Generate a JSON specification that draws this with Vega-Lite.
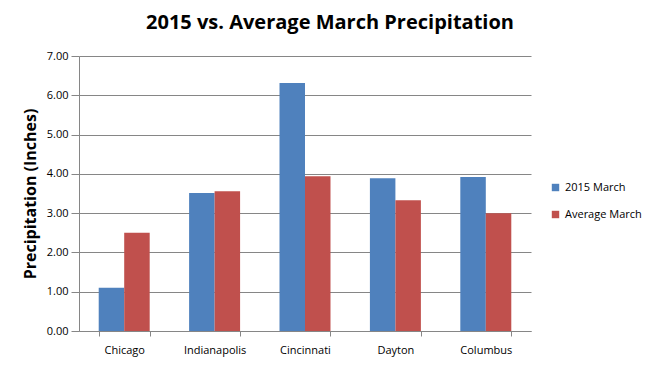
{
  "$schema": "https://vega.github.io/schema/vega-lite/v6.json",
  "width": 452,
  "height": 275,
  "autosize": {"type": "none"},
  "padding": {"left": 79, "top": 56, "right": 129, "bottom": 35},
  "background": "white",
  "title": {
    "text": "2015 vs. Average March Precipitation",
    "font": "Open Sans",
    "fontSize": 20,
    "fontWeight": "bold",
    "color": "#000000",
    "anchor": "middle",
    "dx": 25,
    "offset": 17
  },
  "data": {
    "values": [
      {"city": "Chicago", "series": "2015 March", "inches": 1.10},
      {"city": "Chicago", "series": "Average March", "inches": 2.50},
      {"city": "Indianapolis", "series": "2015 March", "inches": 3.51},
      {"city": "Indianapolis", "series": "Average March", "inches": 3.56},
      {"city": "Cincinnati", "series": "2015 March", "inches": 6.31},
      {"city": "Cincinnati", "series": "Average March", "inches": 3.94},
      {"city": "Dayton", "series": "2015 March", "inches": 3.89},
      {"city": "Dayton", "series": "Average March", "inches": 3.33},
      {"city": "Columbus", "series": "2015 March", "inches": 3.92},
      {"city": "Columbus", "series": "Average March", "inches": 3.00}
    ]
  },
  "mark": {"type": "bar"},
  "encoding": {
    "x": {
      "field": "city",
      "type": "nominal",
      "sort": null,
      "scale": {"paddingInner": 0.436, "paddingOuter": 0.218},
      "axis": {
        "title": null,
        "labelAngle": 0,
        "labelFont": "Open Sans",
        "labelFontSize": 11,
        "labelColor": "#000000",
        "labelPadding": 8,
        "domainColor": "#868686",
        "tickColor": "#868686",
        "tickSize": 5,
        "tickBand": "extent",
        "grid": false
      }
    },
    "xOffset": {"field": "series", "type": "nominal"},
    "y": {
      "field": "inches",
      "type": "quantitative",
      "scale": {"domain": [0, 7], "nice": false},
      "axis": {
        "title": "Precipitation (Inches)",
        "titleFont": "Open Sans",
        "titleFontSize": 16,
        "titleFontWeight": "bold",
        "titleColor": "#000000",
        "titlePadding": 8,
        "values": [0, 1, 2, 3, 4, 5, 6, 7],
        "format": ".2f",
        "labelFont": "Open Sans",
        "labelFontSize": 11,
        "labelColor": "#000000",
        "labelPadding": 3,
        "tickSize": 8,
        "tickColor": "#868686",
        "domainColor": "#868686",
        "gridColor": "#868686",
        "grid": true
      }
    },
    "color": {
      "field": "series",
      "type": "nominal",
      "scale": {"domain": ["2015 March", "Average March"], "range": ["#4F81BD", "#C0504D"]},
      "legend": {
        "title": null,
        "orient": "none",
        "legendX": 471,
        "legendY": 126,
        "symbolType": "square",
        "symbolSize": 55,
        "symbolStrokeWidth": 0,
        "labelFont": "Open Sans",
        "labelFontSize": 11,
        "labelColor": "#000000",
        "rowPadding": 15,
        "labelOffset": 4
      }
    }
  },
  "config": {
    "view": {"stroke": null}
  }
}
